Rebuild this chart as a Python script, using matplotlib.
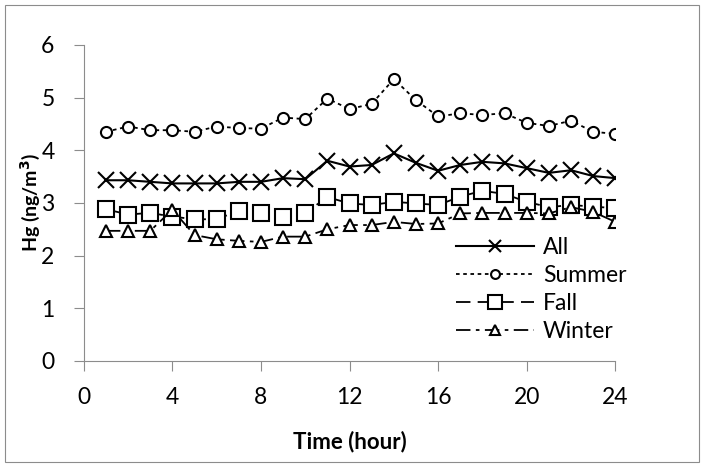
import matplotlib
matplotlib.use("Agg")
import matplotlib.pyplot as plt
from matplotlib.patches import Rectangle

plt.rcParams['font.family'] = ['Lato', 'DejaVu Sans']

hours = list(range(1, 25))
all_hg = [3.43, 3.43, 3.40, 3.37, 3.37, 3.37, 3.40, 3.40, 3.47, 3.45, 3.80, 3.69,
          3.72, 3.94, 3.76, 3.61, 3.72, 3.78, 3.75, 3.66, 3.57, 3.62, 3.51, 3.47]
summer = [4.35, 4.45, 4.38, 4.38, 4.35, 4.45, 4.42, 4.41, 4.62, 4.59, 4.98, 4.78,
          4.88, 5.35, 4.95, 4.64, 4.70, 4.67, 4.70, 4.52, 4.46, 4.56, 4.35, 4.31]
fall = [2.88, 2.78, 2.81, 2.74, 2.69, 2.69, 2.85, 2.81, 2.74, 2.81, 3.11, 2.99,
        2.96, 3.02, 2.99, 2.96, 3.12, 3.23, 3.17, 3.02, 2.92, 2.96, 2.93, 2.90]
winter = [2.47, 2.47, 2.47, 2.87, 2.39, 2.31, 2.28, 2.26, 2.36, 2.36, 2.50, 2.58,
          2.58, 2.64, 2.60, 2.61, 2.80, 2.81, 2.81, 2.81, 2.80, 2.92, 2.83, 2.64]
x_ticks = [0, 4, 8, 12, 16, 20, 24]
y_ticks = [0, 1, 2, 3, 4, 5, 6]

fig = plt.figure(figsize=(7.04, 4.67), dpi=100)
ax = fig.add_axes([0.119, 0.227, 0.755, 0.677])

# outer chart border
fig.patches.append(Rectangle((0.007, 0.01), 0.986, 0.98, transform=fig.transFigure,
                             fill=False, edgecolor='#8c8c8c', lw=0.8))

ax.plot(hours, all_hg, color='black', lw=1.5, marker='x', ms=11, mew=1.5, label='All')
ax.plot(hours, summer, color='black', lw=1.3, ls=(0, (2, 2)), marker='o', ms=8,
        mfc='white', mew=1.5, label='Summer')
ax.plot(hours, fall, color='black', lw=1.3, ls=(0, (8, 4)), marker='s', ms=12,
        mfc='white', mew=1.5, label='Fall')
ax.plot(hours, winter, color='black', lw=1.3, ls=(0, (8, 3, 2, 3)), marker='^', ms=9,
        mfc='white', mew=1.5, label='Winter')

ax.set_xlim(0, 24)
ax.set_ylim(0, 6)
ax.set_xticks(x_ticks)
ax.set_yticks(y_ticks)
ax.tick_params(axis='both', direction='out', length=7, color='#8c8c8c',
               labelsize=16.5)
ax.tick_params(axis='x', pad=12)
ax.tick_params(axis='y', pad=14)
for side in ['top', 'right']:
    ax.spines[side].set_visible(False)
for side in ['left', 'bottom']:
    ax.spines[side].set_color('#8c8c8c')

ax.set_xlabel('Time (hour)', fontsize=16, fontweight='bold', labelpad=16)
ax.set_ylabel('Hg (ng/m$^\\mathbf{3}$)', fontsize=14, fontweight='bold', labelpad=0)
ax.yaxis.set_label_coords(-0.079, 0.5)

ax.legend(loc='lower right', bbox_to_anchor=(1.06, -0.005), frameon=False,
          fontsize=16.5, handlelength=3.4, labelspacing=0.3, handletextpad=0.4,
          markerscale=0.8)

plt.savefig('out.png', dpi=100)
